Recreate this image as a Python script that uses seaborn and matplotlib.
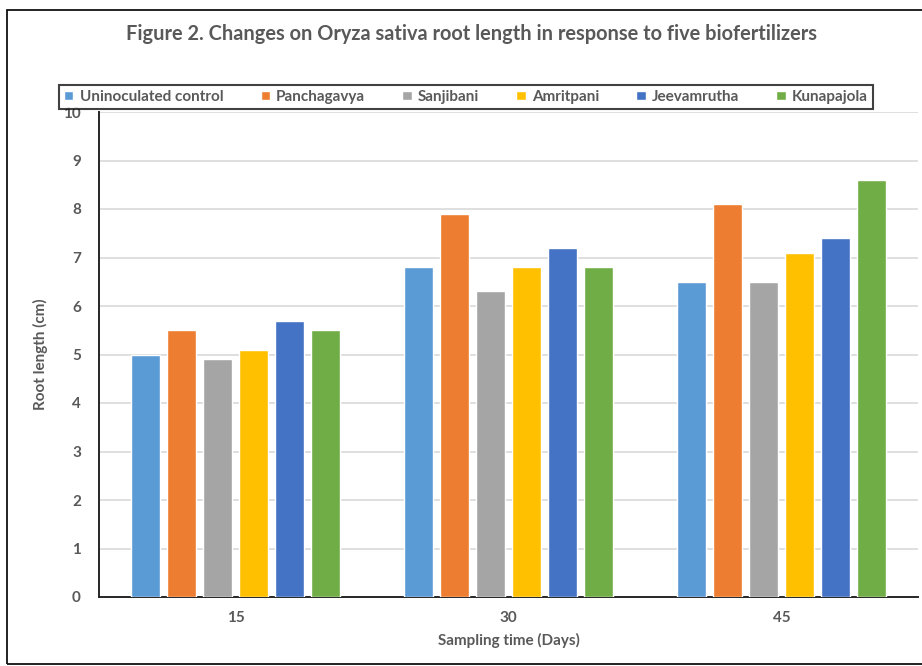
import matplotlib
matplotlib.use("Agg")
import matplotlib.pyplot as plt
from matplotlib.patches import Rectangle
import seaborn as sns
import pandas as pd

# Root length (cm) per sampling day and treatment
days = ["15", "30", "45"]
treatments = ["Uninoculated control", "Panchagavya", "Sanjibani",
              "Amritpani", "Jeevamrutha", "Kunapajola"]
uninoculated = [5.0, 6.8, 6.5]
panchagavya = [5.5, 7.9, 8.1]
sanjibani = [4.9, 6.3, 6.5]
amritpani = [5.1, 6.8, 7.1]
jeevamrutha = [5.7, 7.2, 7.4]
kunapajola = [5.5, 6.8, 8.6]
colors = ["#5b9bd5", "#ed7d31", "#a5a5a5", "#ffc000", "#4472c4", "#70ad47"]

series = [uninoculated, panchagavya, sanjibani, amritpani, jeevamrutha, kunapajola]
df = pd.DataFrame(
    [(d, t, v) for t, vals in zip(treatments, series) for d, v in zip(days, vals)],
    columns=["day", "treatment", "length"],
)

sns.set_theme(style="white")
plt.rcParams["font.family"] = ["Lato", "DejaVu Sans"]
txt = "#595959"

fig = plt.figure(figsize=(9.22, 6.66), dpi=100)
ax = fig.add_axes([99 / 922, 1 - 597 / 666, (918 - 99) / 922, (597 - 112) / 666])

sns.barplot(data=df, x="day", y="length", hue="treatment", order=days,
            hue_order=treatments, palette=colors, width=0.79, gap=0.2,
            saturation=1, errorbar=None, ax=ax, zorder=3)

ax.set_ylim(0, 10)
ax.set_yticks(range(0, 11))
ax.set_xlim(-0.5, 2.5)
ax.yaxis.grid(True, color="#d9d9d9", linewidth=1.2, zorder=0)
ax.set_axisbelow(True)
for s in ["top", "right"]:
    ax.spines[s].set_visible(False)
ax.spines["left"].set_color("#262626")
ax.spines["left"].set_linewidth(1.4)
ax.spines["bottom"].set_color("#262626")
ax.spines["bottom"].set_linewidth(1.4)
ax.tick_params(axis="both", length=0, labelsize=11, labelcolor=txt)
ax.tick_params(axis="y", pad=13)
ax.tick_params(axis="x", pad=10)
for lab in ax.get_xticklabels() + ax.get_yticklabels():
    lab.set_fontweight("bold")

ax.set_xlabel("Sampling time (Days)", fontsize=11, fontweight="bold", color=txt, labelpad=6)
ax.set_ylabel("Root length (cm)", fontsize=11, fontweight="bold", color=txt, labelpad=11)

handles, labels = ax.get_legend_handles_labels()
ax.legend_.remove()
leg = fig.legend(handles, labels, ncol=6, loc="center",
                 bbox_to_anchor=(466 / 922, 1 - 97 / 666), frameon=True,
                 fancybox=False, edgecolor="#111111", handlelength=0.6,
                 handleheight=0.6, handletextpad=0.4, columnspacing=2.45,
                 borderpad=0.35, prop={"weight": "bold", "size": 11})
leg.get_frame().set_linewidth(1.5)
for t in leg.get_texts():
    t.set_color(txt)

fig.text(471 / 922, 1 - 34 / 666,
         "Figure 2. Changes on Oryza sativa root length in response to five biofertilizers",
         ha="center", va="center", fontsize=14.4, fontweight="bold", color=txt)

# outer chart frame
fig.patches.append(Rectangle((7 / 922, 2 / 666), 1.2, 1 - 12 / 666,
                             transform=fig.transFigure, fill=False,
                             edgecolor="#111111", linewidth=1.3))

fig.savefig("out.png", dpi=100)
